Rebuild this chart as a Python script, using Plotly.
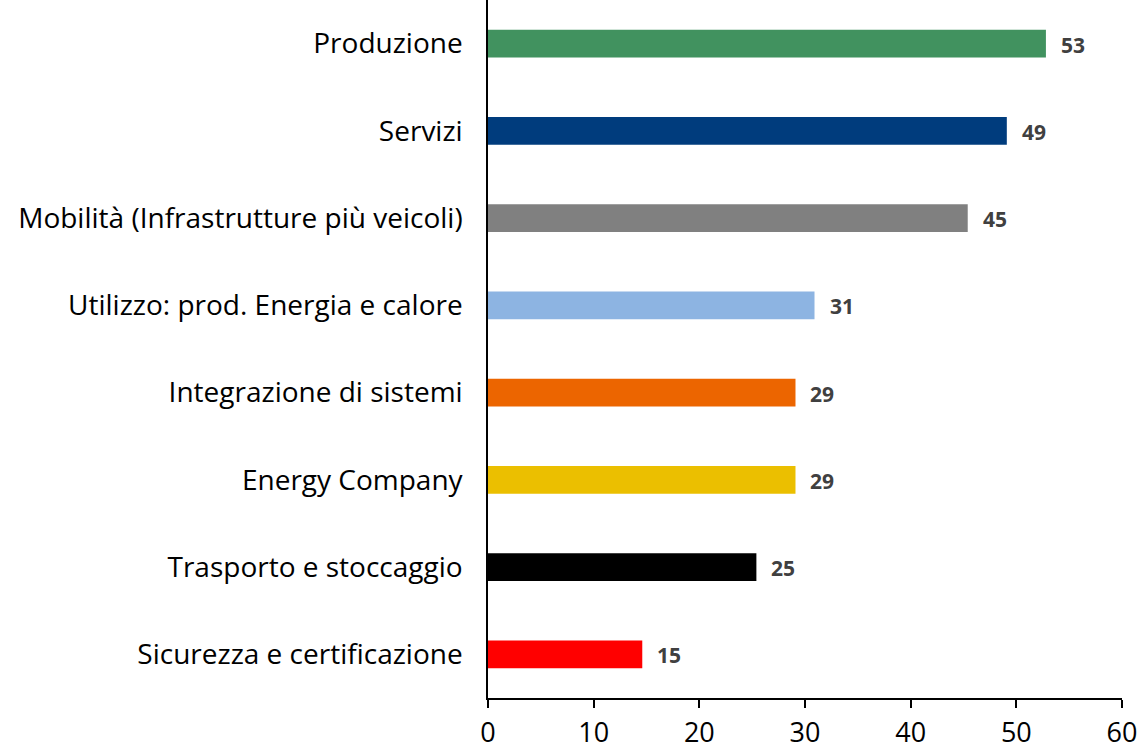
import plotly.graph_objects as go

categories = ["Produzione", "Servizi", "Mobilità (Infrastrutture più veicoli)",
              "Utilizzo: prod. Energia e calore", "Integrazione di sistemi",
              "Energy Company", "Trasporto e stoccaggio", "Sicurezza e certificazione"]
values = [52.8, 49.1, 45.4, 30.9, 29.1, 29.1, 25.4, 14.6]
labels = ["53", "49", "45", "31", "29", "29", "25", "15"]
colors = ["#41925F", "#003C7D", "#808080", "#8DB4E2", "#EC6500", "#EBBF00", "#000000", "#FF0000"]
x_ticks = [0, 10, 20, 30, 40, 50, 60]

FONT = "Open Sans"

fig = go.Figure()
fig.add_trace(go.Bar(
    y=categories, x=values, orientation="h",
    marker=dict(color=colors, line=dict(width=0)),
    width=0.32, hoverinfo="skip",
))

for c, v, t in zip(categories, values, labels):
    fig.add_annotation(x=v, y=c, text="<b>" + t + "</b>", showarrow=False,
                       xanchor="left", xshift=13, yshift=-1,
                       font=dict(family=FONT, size=21, color="#404040"))

fig.update_layout(
    width=1141, height=750,
    margin=dict(l=488, r=19, t=0, b=50),
    paper_bgcolor="white", plot_bgcolor="white",
    showlegend=False,
    font=dict(family=FONT, color="#000000"),
    xaxis=dict(range=[0, 60], tickvals=x_ticks, showgrid=False, zeroline=False,
               showline=True, linecolor="#000000", linewidth=1.5,
               ticks="outside", ticklen=8, tickcolor="#000000", tickwidth=1.5,
               ticklabelstandoff=2,
               tickfont=dict(family=FONT, size=27, color="#000000")),
    yaxis=dict(categoryorder="array", categoryarray=categories[::-1],
               range=[-0.5, 7.5], showgrid=False, zeroline=False,
               showline=True, linecolor="#000000", linewidth=1.5,
               ticks="", ticklabelstandoff=18,
               tickfont=dict(family=FONT, size=28, color="#000000")),
)

fig.write_html("out.html", config={"displayModeBar": False},
               post_script="document.body.style.margin='0';")
